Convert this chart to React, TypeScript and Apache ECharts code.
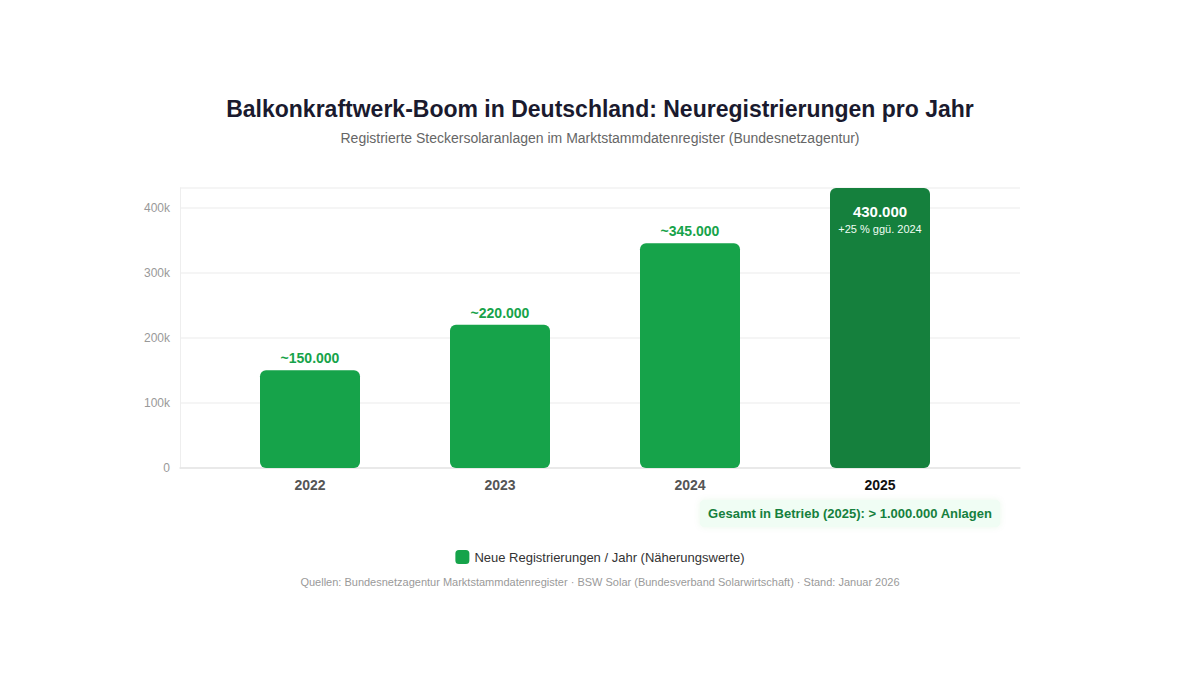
import React, { useEffect, useRef } from "react";
import * as echarts from "echarts";

// Registrations per year (approximate values except the latest year)
const years = ["2022", "2023", "2024", "2025"];
const registrations = [150000, 220000, 345000, 430000];
const approximate = [true, true, true, false];
const yTicks = [0, 100000, 200000, 300000, 400000];

const titleText = "Balkonkraftwerk-Boom in Deutschland: Neuregistrierungen pro Jahr";
const subtitleText = "Registrierte Steckersolaranlagen im Marktstammdatenregister (Bundesnetzagentur)";
const seriesName = "Neue Registrierungen / Jahr (Näherungswerte)";
const totalNote = "Gesamt in Betrieb (2025): > 1.000.000 Anlagen";
const sourceText =
  "Quellen: Bundesnetzagentur Marktstammdatenregister · BSW Solar (Bundesverband Solarwirtschaft) · Stand: Januar 2026";

const FONT = "'Liberation Sans', Arial, Helvetica, sans-serif";
const GREEN = "#16a34a";
const GREEN_DARK = "#15803d";

function formatDE(n: number): string {
  return String(Math.round(n)).replace(/\B(?=(\d{3})+(?!\d))/g, ".");
}

export default function App() {
  const ref = useRef<HTMLDivElement>(null);

  useEffect(() => {
    if (!ref.current) return;
    const chart = echarts.init(ref.current, null, { renderer: "svg" });
    const last = registrations.length - 1;
    const growth = Math.round((registrations[last] / registrations[last - 1] - 1) * 100);
    const yMax = registrations[last];

    const data = registrations.map((v, i) => {
      if (i === last) {
        return {
          value: v,
          itemStyle: { color: GREEN_DARK },
          label: {
            show: true,
            position: "insideTop",
            distance: 13,
            formatter: `{a|${formatDE(v)}}\n{b|+${growth} % ggü. ${years[last - 1]}}`,
            rich: {
              a: { color: "#fff", fontSize: 15, fontWeight: "bold", fontFamily: FONT, lineHeight: 20 },
              b: { color: "#f0fdf4", fontSize: 11, fontFamily: FONT, lineHeight: 16 },
            },
          },
        };
      }
      return {
        value: v,
        label: {
          show: true,
          position: "top",
          distance: 5,
          formatter: (approximate[i] ? "~" : "") + formatDE(v),
          color: GREEN,
          fontSize: 14,
          fontWeight: "bold",
          fontFamily: FONT,
        },
      };
    });

    chart.setOption({
      animation: false,
      backgroundColor: "#ffffff",
      textStyle: { fontFamily: FONT },
      title: [
        {
          text: titleText,
          left: "center",
          top: 92,
          textStyle: { fontSize: 23, fontWeight: "bold", color: "#1a1a2e", fontFamily: FONT },
        },
        {
          text: subtitleText,
          left: "center",
          top: 126,
          textStyle: { fontSize: 14, fontWeight: "normal", color: "#666", fontFamily: FONT },
        },
        {
          text: sourceText,
          left: "center",
          top: 571,
          textStyle: { fontSize: 11, fontWeight: "normal", color: "#9a9a9a", fontFamily: FONT },
        },
      ],
      legend: {
        data: [seriesName],
        left: "center",
        top: 545,
        icon: "roundRect",
        itemWidth: 14,
        itemHeight: 14,
        itemGap: 8,
        textStyle: { fontSize: 13, color: "#333", fontFamily: FONT },
        selectedMode: false,
      },
      grid: [
        { left: 180, right: 180, top: 188, bottom: 207 },
        { left: 215, right: 225, top: 188, bottom: 207 },
      ],
      xAxis: [
        {
          type: "value",
          gridIndex: 0,
          min: 0,
          max: 1,
          axisLine: { show: true, lineStyle: { color: "#e5e5e5", width: 1.5 } },
          axisTick: { show: false },
          axisLabel: { show: false },
          splitLine: { show: false },
        },
        {
          type: "category",
          gridIndex: 1,
          data: years,
          axisLine: { show: false },
          axisTick: { show: false },
          axisLabel: {
            margin: 10,
            fontSize: 14,
            fontWeight: "bold",
            fontFamily: FONT,
            color: (_v: string, i: number) => (i === last ? "#111" : "#555"),
          },
        },
      ],
      yAxis: [
        {
          type: "value",
          gridIndex: 0,
          min: 0,
          max: yMax,
          interval: yTicks[1] - yTicks[0],
          axisLine: { show: true, lineStyle: { color: "#eeeeee" } },
          axisTick: { show: false },
          axisLabel: {
            margin: 10,
            fontSize: 12,
            color: "#999",
            fontFamily: FONT,
            formatter: (v: number) => (yTicks.includes(v) ? (v === 0 ? "0" : `${v / 1000}k`) : ""),
          },
          splitLine: { show: true, lineStyle: { color: "#f2f2f2", width: 1.5 } },
        },
        {
          type: "value",
          gridIndex: 1,
          min: 0,
          max: yMax,
          show: false,
          splitLine: { show: false },
        },
      ],
      series: [
        {
          name: seriesName,
          type: "bar",
          xAxisIndex: 1,
          yAxisIndex: 1,
          barWidth: 100,
          itemStyle: { color: GREEN, borderRadius: 6 },
          data,
        },
      ],
      graphic: [
        {
          type: "group",
          left: 700,
          top: 500,
          children: [
            {
              type: "rect",
              shape: { x: 0, y: 0, width: 300, height: 27, r: 4 },
              style: { fill: "#f0fdf4", shadowBlur: 6, shadowColor: "rgba(22,163,74,0.08)" },
            },
            {
              type: "text",
              x: 150,
              y: 13.5,
              style: {
                text: totalNote,
                fill: GREEN_DARK,
                font: `bold 13px ${FONT}`,
                align: "center",
                verticalAlign: "middle",
              },
            },
          ],
        },
      ],
    });

    return () => chart.dispose();
  }, []);

  return (
    <div
      ref={ref}
      style={{ position: "fixed", left: 0, top: 0, width: 1200, height: 675, background: "#fff" }}
    />
  );
}
